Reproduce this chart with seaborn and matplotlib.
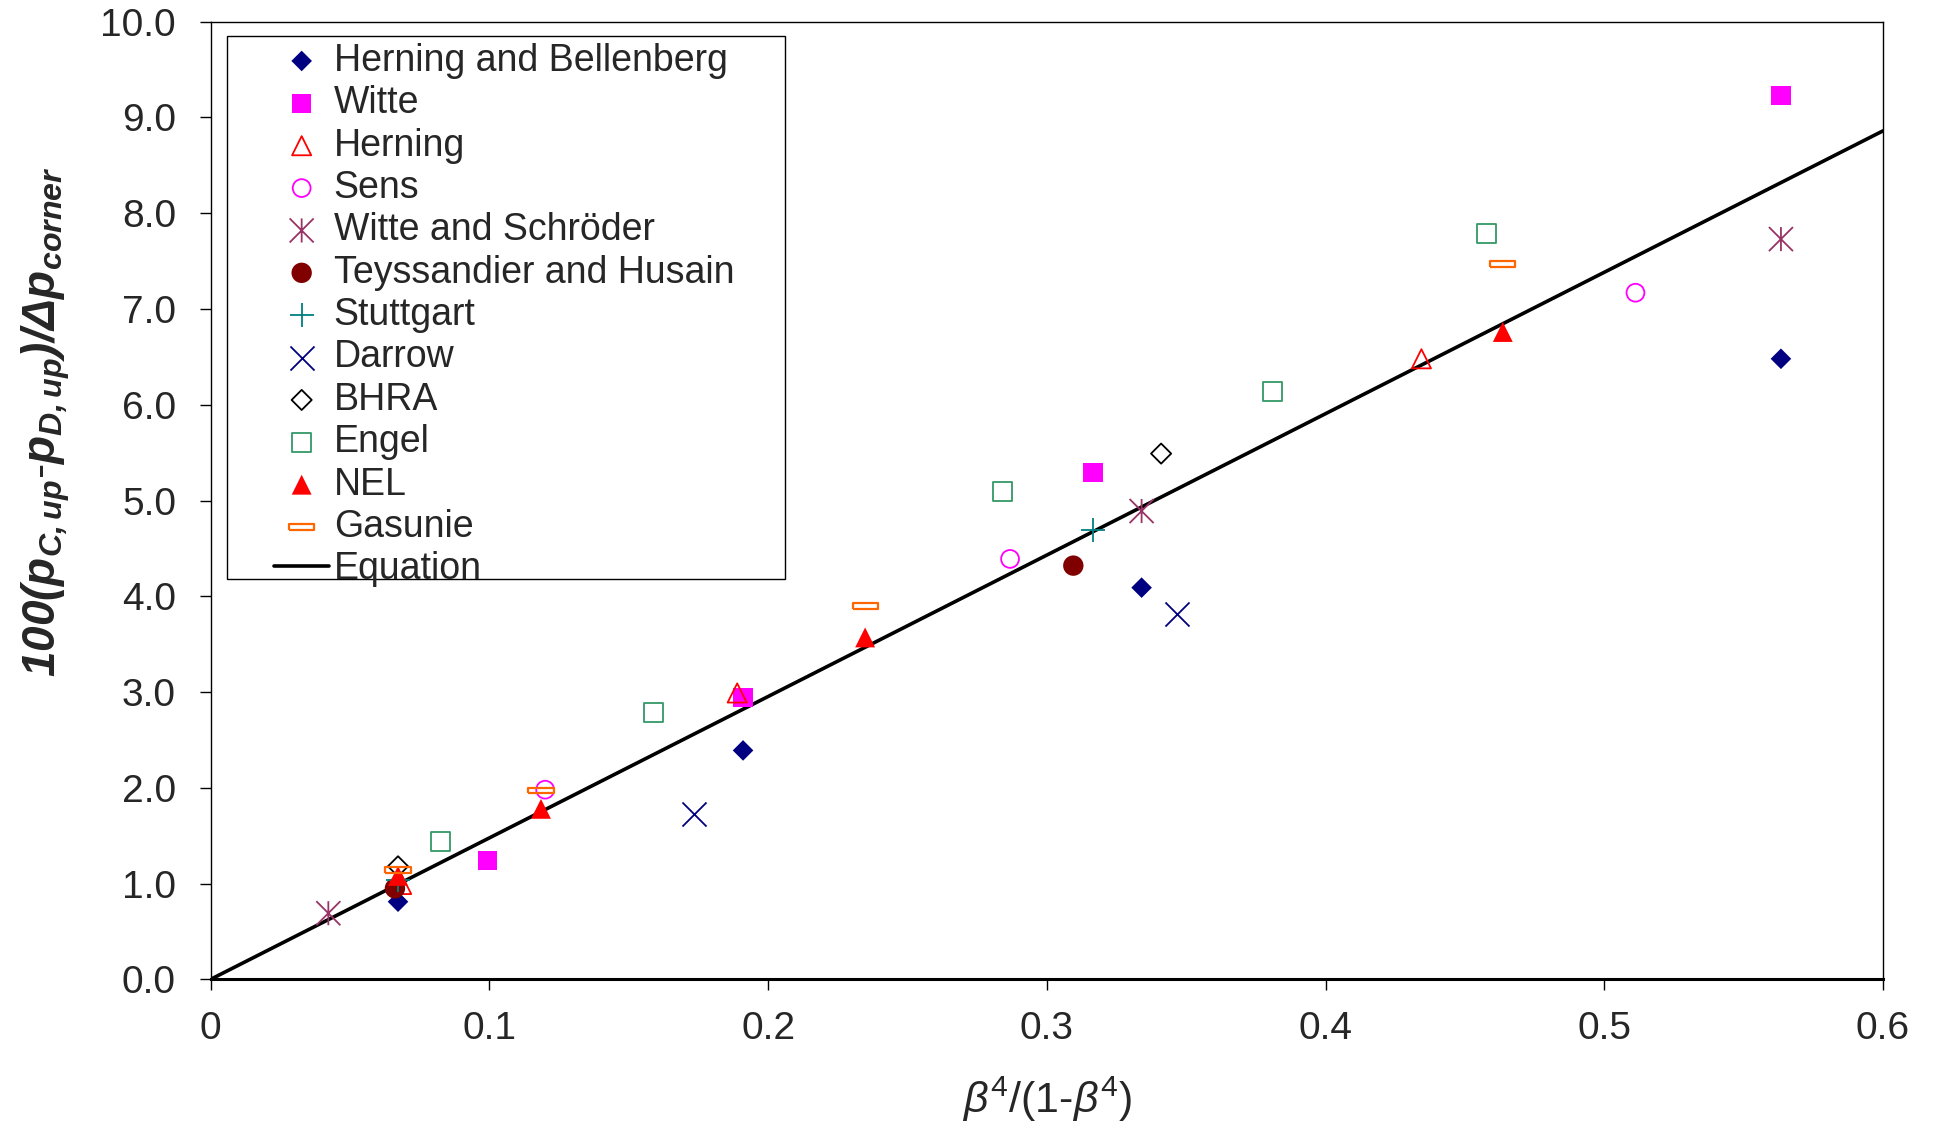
import numpy as np
import pandas as pd
import seaborn as sns
import matplotlib.pyplot as plt
from matplotlib.path import Path
from matplotlib.patches import Rectangle

# data
hb_x = [0.0672, 0.191, 0.334, 0.5634]
hb_y = [0.81, 2.39, 4.09, 6.48]
witte_x = [0.0994, 0.191, 0.3166, 0.5634]
witte_y = [1.24, 2.94, 5.29, 9.23]
herning_x = [0.0685, 0.1889, 0.4344]
herning_y = [0.99, 2.99, 6.48]
sens_x = [0.1200, 0.2868, 0.5112]
sens_y = [1.98, 4.39, 7.17]
ws_x = [0.0422, 0.334, 0.5634]
ws_y = [0.69, 4.89, 7.73]
th_x = [0.0661, 0.3095]
th_y = [0.95, 4.32]
stutt_x = [0.0672, 0.3166]
stutt_y = [1.04, 4.69]
darrow_x = [0.1735, 0.3467]
darrow_y = [1.73, 3.81]
bhra_x = [0.0672, 0.341]
bhra_y = [1.18, 5.49]
engel_x = [0.0823, 0.159, 0.2842, 0.381, 0.4577]
engel_y = [1.44, 2.79, 5.09, 6.14, 7.79]
nel_x = [0.0672, 0.1185, 0.2348, 0.4636]
nel_y = [1.08, 1.78, 3.57, 6.76]
gas_x = [0.0672, 0.1185, 0.2348, 0.4636]
gas_y = [1.14, 1.97, 3.90, 7.47]
eq_x = [0.0, 0.6]
eq_y = [0.0, 8.86]

x_ticks = [0, 0.1, 0.2, 0.3, 0.4, 0.5, 0.6]
x_ticklabels = ["0", "0.1", "0.2", "0.3", "0.4", "0.5", "0.6"]
y_ticks = [0, 1, 2, 3, 4, 5, 6, 7, 8, 9, 10]

sns.set_style("ticks")
plt.rcParams['font.family'] = ['Liberation Sans', 'DejaVu Sans']
plt.rcParams['mathtext.fontset'] = 'custom'
plt.rcParams['mathtext.rm'] = 'Liberation Sans'
plt.rcParams['mathtext.it'] = 'Liberation Sans:italic'
plt.rcParams['mathtext.bf'] = 'Liberation Sans:bold:italic'

# custom markers: excel style asterisk and the flat gasunie bar
asterisk = Path([(0, -1), (0, 1), (-1, -1), (1, 1), (-1, 1), (1, -1)],
                [Path.MOVETO, Path.LINETO, Path.MOVETO, Path.LINETO, Path.MOVETO, Path.LINETO])
flatbar = [(-1, -0.22), (1, -0.22), (1, 0.22), (-1, 0.22), (-1, -0.22)]

fig, ax = plt.subplots(figsize=(19.35, 11.26), dpi=100)
fig.subplots_adjust(left=0.1089, right=0.9731, bottom=0.1303, top=0.9807)

series = [
    ("Herning and Bellenberg", hb_x, hb_y, "D", "#000080", True, 110, 0),
    ("Witte", witte_x, witte_y, "s", "#FF00FF", True, 195, 0),
    ("Herning", herning_x, herning_y, "^", "#FF0000", False, 190, 1.3),
    ("Sens", sens_x, sens_y, "o", "#FF00FF", False, 165, 1.3),
    ("Witte and Schröder", ws_x, ws_y, asterisk, "#993366", False, 300, 1.3),
    ("Teyssandier and Husain", th_x, th_y, "o", "#800000", True, 215, 0),
    ("Stuttgart", stutt_x, stutt_y, "+", "#008080", None, 300, 1.3),
    ("Darrow", darrow_x, darrow_y, "x", "#000080", None, 300, 1.3),
    ("BHRA", bhra_x, bhra_y, "D", "#000000", False, 105, 1.3),
    ("Engel", engel_x, engel_y, "s", "#339966", False, 185, 1.3),
    ("NEL", nel_x, nel_y, "^", "#FF0000", True, 205, 0),
    ("Gasunie", gas_x, gas_y, flatbar, "#FF6600", False, 330, 1.6),
]

for name, xs, ys, mk, col, filled, size, lw in series:
    df = pd.DataFrame({"x": xs, "y": ys})
    if filled is None:
        sns.scatterplot(data=df, x="x", y="y", ax=ax, marker=mk, color=col,
                        s=size, linewidth=lw, label=name, zorder=3)
    elif filled:
        sns.scatterplot(data=df, x="x", y="y", ax=ax, marker=mk, color=col,
                        edgecolor="none", s=size, linewidth=0, label=name, zorder=3)
    else:
        sns.scatterplot(data=df, x="x", y="y", ax=ax, marker=mk, facecolor="none",
                        edgecolor=col, s=size, linewidth=lw, label=name, zorder=3)

sns.lineplot(x=eq_x, y=eq_y, ax=ax, color="black", linewidth=2.6, label="Equation", zorder=2)

ax.set_xlim(0, 0.6)
ax.set_ylim(0, 10)
ax.set_xticks(x_ticks)
ax.set_xticklabels(x_ticklabels)
ax.set_yticks(y_ticks)
ax.set_yticklabels([f"{v:.1f}" for v in y_ticks])
ax.tick_params(axis="both", direction="out", length=8, width=1, labelsize=28, color="black")
ax.tick_params(axis="x", pad=15)
ax.tick_params(axis="y", pad=17)
for s in ["top", "right", "left"]:
    ax.spines[s].set_linewidth(1)
    ax.spines[s].set_color("black")
ax.spines["bottom"].set_linewidth(2.2)
ax.spines["bottom"].set_color("black")

ax.set_xlabel(r"$\beta^4$/(1-$\beta^4$)", fontsize=31, labelpad=20)
ax.set_ylabel(r"$\mathbf{100(p_{C,up}\text{-}p_{D,up})/\Delta p_{corner}}$", fontsize=33)
ax.yaxis.set_label_coords(-0.0985, 0.582)
ax.yaxis.label.set_va("center")

# legend frame drawn separately so the left padding matches
ax.add_patch(Rectangle((0.0097, 0.418), 0.334, 0.567, transform=ax.transAxes,
                       fill=False, edgecolor="black", linewidth=1, zorder=1))
handles, labels = ax.get_legend_handles_labels()
ax.legend(handles, labels, loc="upper left", bbox_to_anchor=(0.0379, 0.978),
          frameon=False, fontsize=27, labelspacing=0.17, handlelength=1.47,
          handletextpad=0.12, borderpad=0, borderaxespad=0, scatterpoints=1)

plt.savefig("out.png", dpi=100)
